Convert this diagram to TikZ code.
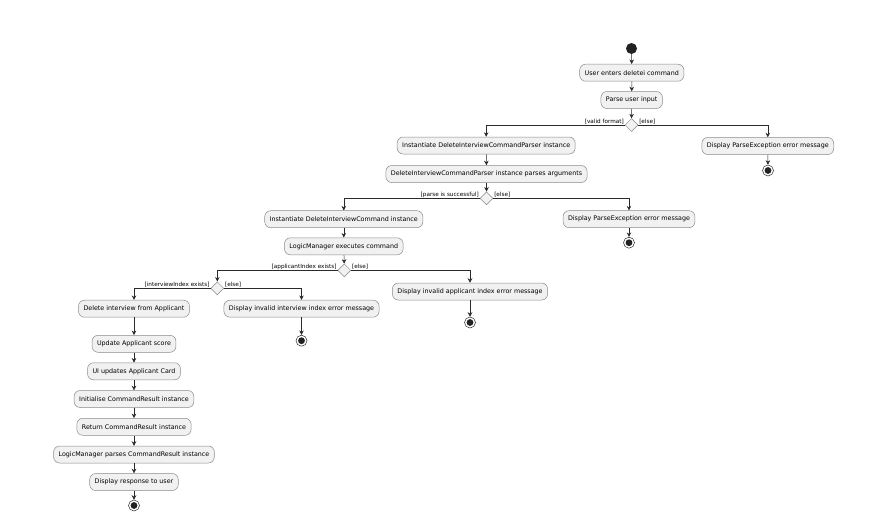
\documentclass[tikz,border=0pt]{standalone}
\usepackage{fontspec}
\setmainfont{DejaVu Sans}
\usetikzlibrary{shapes.geometric,arrows.meta}
\definecolor{actfill}{HTML}{F1F1F1}
\definecolor{lineclr}{HTML}{2A2A2A}
\definecolor{boxline}{HTML}{8A8A8A}
\definecolor{dotclr}{HTML}{222222}
\tikzset{
  act/.style={rectangle, rounded corners=6, draw=boxline, fill=actfill, line width=0.5pt,
    font=\fontsize{6.35}{7}\selectfont, inner xsep=5pt, inner ysep=0pt, minimum height=17pt},
  dec/.style={diamond, aspect=1, draw=boxline, fill=actfill, line width=0.5pt,
    minimum size=13pt, inner sep=0pt},
  startdot/.style={circle, fill=dotclr, minimum size=11pt, inner sep=0pt},
  stopdot/.style={circle, draw=lineclr, fill=white, line width=0.5pt, minimum size=11pt, inner sep=0pt,
    path picture={\fill[dotclr] (path picture bounding box.center) circle (3.4pt);}},
  flow/.style={draw=lineclr, line width=0.5pt, -{Stealth[length=4.5pt,width=4.5pt,inset=1.5pt]}},
  guard/.style={font=\fontsize{5.7}{6}\selectfont, inner sep=0.8pt},
}
\begin{document}
\begin{tikzpicture}[x=1pt,y=-1pt]
\useasboundingbox (0,0) rectangle (870,520);
\fill[white] (0,0) rectangle (870,520);

\node[startdot] (s) at (631.5,48.5) {};
\node[act] (a1) at (631.8,72.7) {User enters deletei command};
\node[act] (a2) at (631.7,100) {Parse user input};
\node[dec] (d1) at (631.5,125) {};
\node[act] (b1) at (486.2,145.5) {Instantiate DeleteInterviewCommandParser instance};
\node[act] (e1) at (767.8,146) {Display ParseException error message};
\node[stopdot] (x1) at (768,170.5) {};
\node[act] (b2) at (486.5,174) {DeleteInterviewCommandParser instance parses arguments};
\node[dec] (d2) at (486.5,198.3) {};
\node[act] (c1) at (343.8,219.2) {Instantiate DeleteInterviewCommand instance};
\node[act] (e2) at (629,219.2) {Display ParseException error message};
\node[stopdot] (x2) at (629,242.7) {};
\node[act] (c2) at (343.8,246.3) {LogicManager executes command};
\node[dec] (d3) at (344.3,270.3) {};
\node[act] (e3) at (470,291.5) {Display invalid applicant index error message};
\node[stopdot] (x3) at (470,322.5) {};
\node[dec] (d4) at (217.3,288.3) {};
\node[act] (f1) at (134,308.7) {Delete interview from Applicant};
\node[act] (e4) at (301.5,308.7) {Display invalid interview index error message};
\node[stopdot] (x4) at (301.5,340.7) {};
\node[act] (f2) at (134,343.8) {Update Applicant score};
\node[act] (f3) at (134,371.3) {UI updates Applicant Card};
\node[act] (f4) at (134,399) {Initialise CommandResult instance};
\node[act] (f5) at (134,426.8) {Return CommandResult instance};
\node[act] (f6) at (134,454.5) {LogicManager parses CommandResult instance};
\node[act] (f7) at (134,482) {Display response to user};
\node[stopdot] (x5) at (134,505.5) {};

% guards
\node[guard, anchor=south east] (g1) at (d1.west) {[valid format]};
\node[guard, anchor=south west] (g2) at (d1.east) {[else]};
\node[guard, anchor=south east] (g3) at (d2.west) {[parse is successful]};
\node[guard, anchor=south west] (g4) at (d2.east) {[else]};
\node[guard, anchor=south east] (g5) at (d3.west) {[applicantIndex exists]};
\node[guard, anchor=south west] (g6) at (d3.east) {[else]};
\node[guard, anchor=south east] (g7) at (d4.west) {[interviewIndex exists]};
\node[guard, anchor=south west] (g8) at (d4.east) {[else]};

% flows
\draw[flow] (s) -- (a1);
\draw[flow] (a1) -- (a2);
\draw[flow] (a2) -- (d1);
\draw[flow] (d1.west) -| (b1.north);
\draw[flow] (d1.east) -| (e1.north);
\draw[flow] (e1) -- (x1);
\draw[flow] (b1) -- (b2);
\draw[flow] (b2) -- (d2);
\draw[flow] (d2.west) -| (c1.north);
\draw[flow] (d2.east) -| (e2.north);
\draw[flow] (e2) -- (x2);
\draw[flow] (c1) -- (c2);
\draw[flow] (c2) -- (d3);
\draw[flow] (d3.west) -| (d4.north);
\draw[flow] (d3.east) -| (e3.north);
\draw[flow] (e3) -- (x3);
\draw[flow] (d4.west) -| (f1.north);
\draw[flow] (d4.east) -| (e4.north);
\draw[flow] (e4) -- (x4);
\draw[flow] (f1) -- (f2);
\draw[flow] (f2) -- (f3);
\draw[flow] (f3) -- (f4);
\draw[flow] (f4) -- (f5);
\draw[flow] (f5) -- (f6);
\draw[flow] (f6) -- (f7);
\draw[flow] (f7) -- (x5);
\end{tikzpicture}
\end{document}
